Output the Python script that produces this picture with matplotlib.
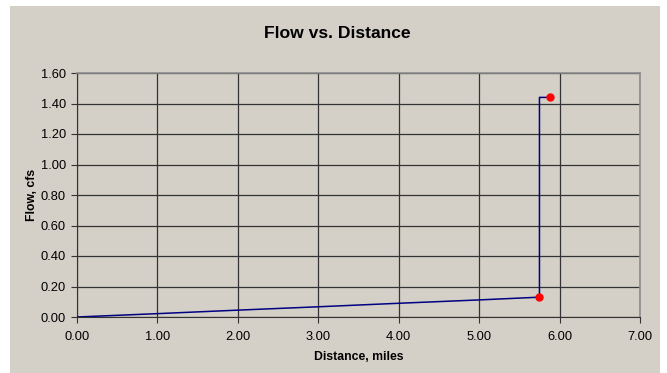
import matplotlib.pyplot as plt
from matplotlib.patches import Rectangle

plt.rcParams['font.family'] = ['Liberation Sans', 'DejaVu Sans']

# flow along the reach, miles / cfs
distance = [0.00, 1.00, 2.00, 3.00, 4.00, 5.00, 5.75, 5.75, 5.88]
flow = [0.000, 0.022, 0.045, 0.067, 0.090, 0.112, 0.130, 1.440, 1.440]

# inflow points
pt_distance = [5.75, 5.88]
pt_flow = [0.13, 1.44]

xticks = [0, 1, 2, 3, 4, 5, 6, 7]
yticks = [0.0, 0.2, 0.4, 0.6, 0.8, 1.0, 1.2, 1.4, 1.6]

bg = '#D4D0C8'

fig = plt.figure(figsize=(6.67, 3.73), dpi=100, facecolor='white')
fig.patches.append(Rectangle((10/667, 0), 650/667, 1 - 6/373,
                             transform=fig.transFigure, facecolor=bg,
                             edgecolor='none', zorder=-10))

ax = fig.add_axes([77/667, 1 - 317/373, (640 - 77)/667, (317 - 73)/373])
ax.set_facecolor(bg)

ax.plot(distance, flow, color='#000080', lw=1.1, zorder=3)
ax.plot(pt_distance, pt_flow, 'o', color='#FF0000', ms=5, zorder=4)

ax.set_xlim(0, 7)
ax.set_ylim(0, 1.6)
ax.set_xticks(xticks)
ax.set_yticks(yticks)
ax.set_xticklabels(['%.2f' % v for v in xticks])
ax.set_yticklabels(['%.2f' % v for v in yticks])
ax.tick_params(direction='out', length=4, width=0.8, color='#333333',
               labelsize=9.3, pad=4)
ax.tick_params(axis='x', pad=6)

ax.grid(True, color='#333333', lw=0.9)
ax.set_axisbelow(True)
for side in ['left', 'bottom']:
    ax.spines[side].set_color('#333333')
for side in ['top', 'right']:
    ax.spines[side].set_color('#8C8C8C')
    ax.spines[side].set_linewidth(1.2)

ax.set_xlabel('Distance, miles', fontsize=8.8, fontweight='bold', labelpad=6)
ax.set_ylabel('Flow, cfs', fontsize=8.8, fontweight='bold', labelpad=2)
fig.text(337/667, 1 - 33/373, 'Flow vs. Distance', ha='center', va='center',
         fontsize=12.6, fontweight='bold')

fig.savefig('out.png', dpi=100, facecolor=fig.get_facecolor())
